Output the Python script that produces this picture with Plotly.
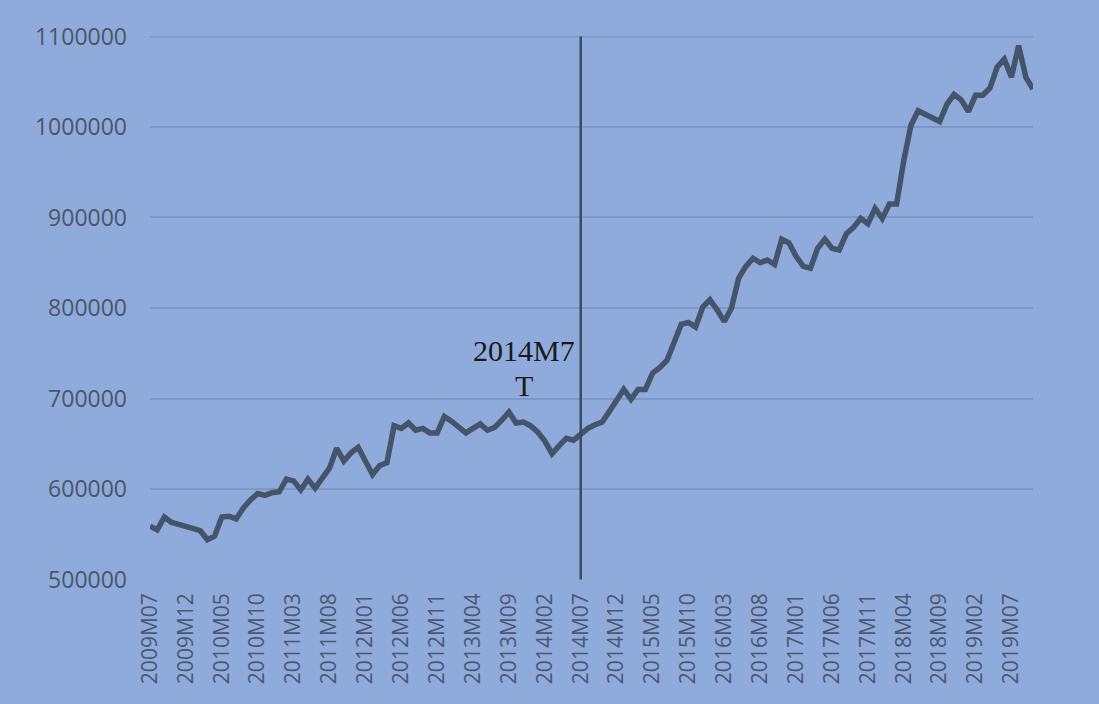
import pandas as pd
import plotly.graph_objects as go

# monthly series 2009M07 .. 2019M10
MONTHS = [f"{y}M{m:02d}" for y in range(2009, 2020) for m in range(1, 13)]
MONTHS = MONTHS[MONTHS.index("2009M07"):MONTHS.index("2019M10") + 1]

VALUES = [
    559000, 555000, 569000, 563000, 561000, 559000, 557000, 554000, 544000, 548000,
    569000, 570000, 567000, 579000, 588000, 595000, 593000, 596000, 597000, 611000,
    609000, 599000, 611000, 601000, 612000, 623000, 645000, 631000, 640000, 646000,
    631000, 616000, 626000, 629000, 670000, 667000, 673000, 665000, 667000, 662000,
    662000, 680000, 675000, 668000, 662000, 667000, 672000, 665000, 668000, 676000,
    685000, 673000, 674000, 670000, 663000, 653000, 639000, 648000, 656000, 654000,
    660000, 667000, 671000, 674000, 686000, 697000, 710000, 699000, 710000, 710000,
    728000, 734000, 742000, 762000, 782000, 784000, 779000, 801000, 809000, 798000,
    785000, 800000, 833000, 846000, 855000, 850000, 853000, 848000, 876000, 872000,
    857000, 846000, 844000, 866000, 876000, 866000, 864000, 882000, 889000, 899000,
    893000, 910000, 899000, 915000, 915000, 963000, 1002000, 1018000, 1014000, 1010000,
    1006000, 1025000, 1036000, 1030000, 1017000, 1035000, 1035000, 1043000, 1066000, 1075000,
    1055000, 1090000, 1055000, 1042000,
]

TICK_LABELS = MONTHS[::5]
Y_MIN, Y_MAX = 500000, 1100000
BREAK = "2014M07"
BREAK_LABEL = ["2014M7", "T"]

BG = "#8FABDB"
LINE = "#44546A"
GRID = "#7D97C6"

df = pd.DataFrame({"month": MONTHS, "value": VALUES})

fig = go.Figure(go.Scatter(
    x=df["month"], y=df["value"], mode="lines",
    line=dict(color=LINE, width=5.5), showlegend=False,
))

# top gridline (plotly drops it at the range edge)
fig.add_shape(type="line", xref="paper", yref="y", layer="below",
              x0=0, x1=1, y0=Y_MAX, y1=Y_MAX,
              line=dict(color=GRID, width=2))

fig.add_shape(type="line", xref="x", yref="y",
              x0=BREAK, x1=BREAK, y0=Y_MIN, y1=Y_MAX,
              line=dict(color="#3E4A5E", width=2.5))

for txt, yy in zip(BREAK_LABEL, [0.421, 0.358]):
    fig.add_annotation(text=txt, xref="paper", yref="paper",
                       x=0.4236, y=yy, showarrow=False,
                       xanchor="center", yanchor="middle",
                       font=dict(family="Liberation Serif", size=30, color="#1A1A1A"))

fig.update_layout(
    width=1099, height=704,
    margin=dict(l=150, r=66, t=36, b=124),
    paper_bgcolor=BG, plot_bgcolor=BG,
    font=dict(family="Open Sans", color="#475467"),
)
fig.update_xaxes(
    type="category", tickmode="array", tickvals=TICK_LABELS, ticktext=TICK_LABELS,
    tickangle=-90, tickfont=dict(size=21, color="#4A5870"),
    showgrid=False, showline=False, ticks="", ticklabelstandoff=8,
)
fig.update_yaxes(
    range=[Y_MIN - 500, Y_MAX + 500], dtick=100000, tickformat="d",
    tickfont=dict(size=23, color="#4A5568"),
    showgrid=True, gridcolor=GRID, gridwidth=2, zeroline=False,
    showline=False, ticks="", ticklabelstandoff=22,
)

fig.write_html("out.html", config={"displayModeBar": False},
               post_script="document.body.style.margin='0';")
